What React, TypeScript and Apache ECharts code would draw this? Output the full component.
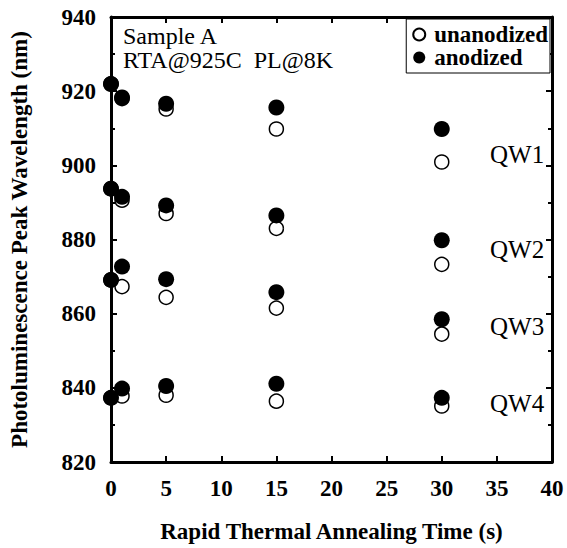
import React, { useEffect, useRef } from "react";
import * as echarts from "echarts";

const times = [0, 1, 5, 15, 30];
const unanodizedQW1 = [922, 918, 915.2, 909.8, 900.9];
const anodizedQW1 = [921.9, 918.3, 916.6, 915.6, 909.8];
const unanodizedQW2 = [893.7, 890.6, 887, 883, 873.3];
const anodizedQW2 = [893.7, 891.5, 889.2, 886.5, 879.8];
const unanodizedQW3 = [869.1, 867.3, 864.4, 861.5, 854.5];
const anodizedQW3 = [869.1, 872.7, 869.3, 865.8, 858.5];
const unanodizedQW4 = [837.3, 837.8, 838, 836.4, 835.1];
const anodizedQW4 = [837.3, 839.8, 840.5, 841.1, 837.3];
const qwLabels = ["QW1", "QW2", "QW3", "QW4"];
const qwLabelY = [155, 250, 327, 404];

const FONT = "Liberation Serif";

function pairs(vals: number[]) {
  return times.map((t, i) => [t, vals[i]]);
}

export default function App() {
  const ref = useRef<HTMLDivElement>(null);
  useEffect(() => {
    if (!ref.current) return;
    const chart = echarts.init(ref.current, undefined, { renderer: "svg" });
    const unData = [unanodizedQW1, unanodizedQW2, unanodizedQW3, unanodizedQW4].flatMap(pairs);
    const anData = [anodizedQW1, anodizedQW2, anodizedQW3, anodizedQW4].flatMap(pairs);
    const axisLine = { show: true, onZero: false, lineStyle: { color: "#000", width: 3 } };
    const tick = { show: true, inside: true, length: 6, lineStyle: { color: "#000", width: 2 } };
    const minorTick = { show: true, splitNumber: 2, length: 4, lineStyle: { color: "#000", width: 2 } };
    const bold = { fontFamily: FONT, fontSize: 23, fontWeight: "bold" as const, color: "#000" };
    chart.setOption({
      animation: false,
      backgroundColor: "#fff",
      grid: { left: 104, right: 15, top: 17, bottom: 84 },
      legend: {
        data: ["unanodized", "anodized"],
        orient: "vertical",
        right: 17,
        top: 19,
        padding: [4, 2, 4, 6],
        itemGap: 0,
        itemWidth: 12,
        itemHeight: 12,
        borderColor: "#000",
        borderWidth: 1,
        backgroundColor: "#fff",
        textStyle: { ...bold, padding: [0, 0, 0, 4] },
      },
      xAxis: [
        {
          type: "value",
          min: 0,
          max: 40,
          interval: 5,
          position: "bottom",
          name: "Rapid Thermal Annealing Time (s)",
          nameLocation: "middle",
          nameGap: 58,
          nameTextStyle: bold,
          axisLine,
          axisTick: tick,
          axisLabel: { ...bold, margin: 15 },
          splitLine: { show: false },
        },
        {
          type: "value",
          min: 0,
          max: 40,
          interval: 5,
          position: "top",
          axisLine,
          axisTick: tick,
          axisLabel: { show: false },
          splitLine: { show: false },
        },
      ],
      yAxis: [
        {
          type: "value",
          min: 820,
          max: 940,
          interval: 20,
          position: "left",
          name: "Photoluminescence Peak Wavelength (nm)",
          nameLocation: "middle",
          nameGap: 80,
          nameTextStyle: bold,
          axisLine,
          axisTick: tick,
          minorTick,
          axisLabel: { ...bold, margin: 15 },
          splitLine: { show: false },
        },
        {
          type: "value",
          min: 820,
          max: 940,
          interval: 20,
          position: "right",
          axisLine,
          axisTick: tick,
          minorTick,
          axisLabel: { show: false },
          splitLine: { show: false },
        },
      ],
      series: [
        {
          name: "unanodized",
          type: "scatter",
          symbol: "circle",
          symbolSize: 14,
          itemStyle: { color: "#fff", borderColor: "#000", borderWidth: 1.5, opacity: 1 },
          data: unData,
          z: 2,
        },
        {
          name: "anodized",
          type: "scatter",
          symbol: "circle",
          symbolSize: 16,
          itemStyle: { color: "#000", opacity: 1 },
          data: anData,
          z: 3,
        },
      ],
      graphic: [
        {
          type: "text",
          left: 123,
          top: 24,
          style: { text: "Sample A", fontFamily: FONT, fontSize: 24, fill: "#000" },
        },
        {
          type: "text",
          left: 123,
          top: 48,
          style: { text: "RTA@925C  PL@8K", fontFamily: FONT, fontSize: 24, fill: "#000" },
        },
        ...qwLabels.map((t, i) => ({
          type: "text",
          left: 490,
          top: qwLabelY[i] - 13,
          style: { text: t, fontFamily: FONT, fontSize: 25, fill: "#000" },
        })),
      ],
    });
    return () => chart.dispose();
  }, []);
  return (
    <div
      ref={ref}
      style={{ position: "fixed", left: 0, top: 0, width: 567, height: 548 }}
    />
  );
}
